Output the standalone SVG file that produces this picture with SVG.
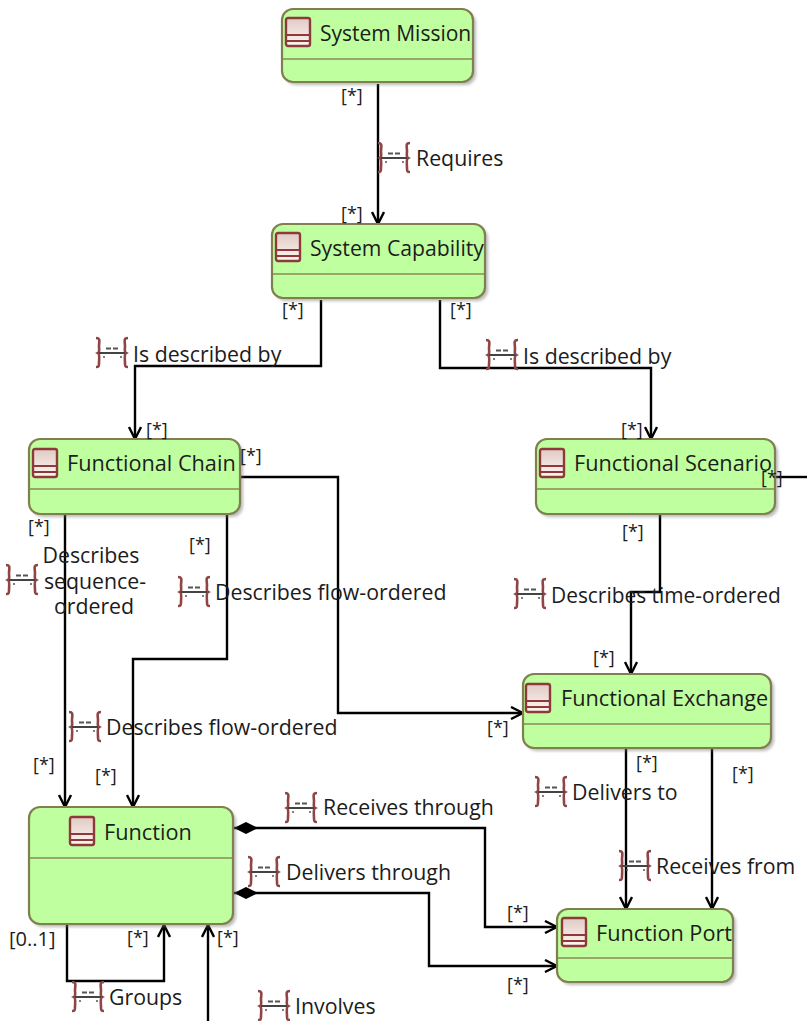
<svg xmlns="http://www.w3.org/2000/svg" width="807" height="1021" viewBox="0 0 807 1021">
<style>
text{font-family:"Open Sans","Noto Sans","Liberation Sans",sans-serif;fill:#1c1c1c}
.n{font-size:21.7px}
.l{font-size:21.3px}
.m{font-size:18px}
.box{fill:#bfff9f;stroke:#7f7f4f;stroke-width:2.2}
.sh{fill:#777;opacity:.5;filter:url(#b)}
.div{stroke:#8a8a55;stroke-width:1.6;fill:none}
.c{fill:none;stroke:#000;stroke-width:2.4}
</style>
<defs>
<filter id="b" x="-10%" y="-10%" width="120%" height="120%"><feGaussianBlur stdDeviation="1.6"/></filter>
<linearGradient id="g" x1="0" y1="0" x2="0" y2="1"><stop offset="0" stop-color="#e0cac4"/><stop offset="1" stop-color="#fff6f2"/></linearGradient>
<g id="ci">
<rect x="0" y="0" width="24" height="28" rx="2" fill="url(#g)" stroke="#8f3a3a" stroke-width="2.4"/>
<path d="M0 17H24M0 23H24" stroke="#8f3a3a" stroke-width="2" fill="none"/>
</g>
<g id="ri" fill="none" stroke="#8f4545" stroke-width="2.6">
<path d="M0 0C5 0 3 4 3 8C3 12 4 14 2 15C4 16 3 22 3 25C3 28 3 29 0 29"/>
<path d="M32 0C27 0 29 4 29 8C29 12 28 14 30 15C28 16 29 22 29 25C29 28 29 29 32 29"/>
<path d="M3 15H29" stroke="#444" stroke-width="2"/>
<path d="M10 10.500H15M17 10.500H22" stroke="#555" stroke-width="2"/>
<path d="M7 19H9M24 19H26" stroke="#555" stroke-width="1.500"/>
</g>
<marker id="a" viewBox="0 0 14 14" markerWidth="14" markerHeight="14" refX="13" refY="7" orient="auto" markerUnits="userSpaceOnUse"><path d="M1 1L13 7L1 13" fill="none" stroke="#000" stroke-width="2.4"/></marker>
<marker id="d" viewBox="0 0 26 14" markerWidth="26" markerHeight="14" refX="1" refY="7" orient="auto" markerUnits="userSpaceOnUse"><path d="M1 7L13 1L25 7L13 13Z" fill="#000"/></marker>
</defs>
<g id="connectors">
<path class="c" marker-end="url(#a)" d="M378 84V224"/>
<path class="c" marker-end="url(#a)" d="M321 300V366H135V439"/>
<path class="c" marker-end="url(#a)" d="M440 300V368H651V439"/>
<path class="c" d="M775 477H807"/>
<path class="c" marker-end="url(#a)" d="M65 515V807"/>
<path class="c" marker-end="url(#a)" d="M227 515V659H133V807"/>
<path class="c" marker-end="url(#a)" d="M241 477H338V713H523"/>
<path class="c" marker-end="url(#a)" d="M660 515V592H631V674"/>
<path class="c" marker-end="url(#a)" d="M626 749V909"/>
<path class="c" marker-end="url(#a)" d="M712 749V909"/>
<path class="c" marker-start="url(#d)" marker-end="url(#a)" d="M234 828H485V927H557"/>
<path class="c" marker-start="url(#d)" marker-end="url(#a)" d="M234 893H429V966H557"/>
<path class="c" marker-end="url(#a)" d="M67 925V981H164V925"/>
<path class="c" marker-end="url(#a)" d="M208 1021V925"/>
</g>
<g id="node-system-mission"><rect class="sh" x="285" y="12" width="191" height="73" rx="11"/><rect class="box" x="282" y="9" width="191" height="73" rx="11"/><path class="div" d="M283 59H472"/><use href="#ci" x="286" y="18"/><text class="n" style="font-size:21px" x="320" y="41">System Mission</text></g>
<g id="node-system-capability"><rect class="sh" x="275" y="227" width="213" height="74" rx="11"/><rect class="box" x="272" y="224" width="213" height="74" rx="11"/><path class="div" d="M273 274H484"/><use href="#ci" x="276" y="233"/><text class="n" style="font-size:21.2px" x="310" y="256">System Capability</text></g>
<g id="node-functional-chain"><rect class="sh" x="32" y="442" width="211" height="75" rx="11"/><rect class="box" x="29" y="439" width="211" height="75" rx="11"/><path class="div" d="M30 489H239"/><use href="#ci" x="33" y="449"/><text class="n" x="67" y="471">Functional Chain</text></g>
<g id="node-functional-scenario"><rect class="sh" x="539" y="442" width="239" height="75" rx="11"/><rect class="box" x="536" y="439" width="239" height="75" rx="11"/><path class="div" d="M537 489H774"/><use href="#ci" x="540" y="449"/><text class="n" x="574" y="471">Functional Scenario</text></g>
<g id="node-functional-exchange"><rect class="sh" x="526" y="677" width="248" height="74" rx="11"/><rect class="box" x="523" y="674" width="248" height="74" rx="11"/><path class="div" d="M524 724H770"/><use href="#ci" x="526" y="684"/><text class="n" x="561" y="706">Functional Exchange</text></g>
<g id="node-function"><rect class="sh" x="32" y="810" width="204" height="117" rx="11"/><rect class="box" x="29" y="807" width="204" height="117" rx="11"/><path class="div" d="M30 858H232"/><use href="#ci" x="70" y="817"/><text class="n" x="104" y="840">Function</text></g>
<g id="node-function-port"><rect class="sh" x="560" y="912" width="176" height="73" rx="11"/><rect class="box" x="557" y="909" width="176" height="73" rx="11"/><path class="div" d="M558 958H732"/><use href="#ci" x="562" y="918"/><text class="n" x="596" y="941">Function Port</text></g>
<g id="labels">
<use href="#ri" x="378" y="143"/><text class="l" x="416" y="166">Requires</text>
<use href="#ri" x="96" y="338"/><text class="l" x="133" y="362">Is described by</text>
<use href="#ri" x="486" y="340"/><text class="l" x="523" y="364">Is described by</text>
<use href="#ri" x="6" y="565"/>
<text class="l" x="91" y="563" text-anchor="middle">Describes</text><text class="l" x="95" y="589" text-anchor="middle">sequence-</text><text class="l" x="94" y="614" text-anchor="middle">ordered</text>
<use href="#ri" x="178" y="577"/><text class="l" x="215" y="600">Describes flow-ordered</text>
<use href="#ri" x="514" y="579"/><text class="l" style="font-size:20.9px" x="551" y="603">Describes time-ordered</text>
<use href="#ri" x="69" y="712"/><text class="l" x="106" y="735">Describes flow-ordered</text>
<use href="#ri" x="535" y="777"/><text class="l" x="572" y="800">Delivers to</text>
<use href="#ri" x="619" y="851"/><text class="l" x="656" y="874">Receives from</text>
<use href="#ri" x="285" y="793"/><text class="l" x="323" y="815">Receives through</text>
<use href="#ri" x="248" y="857"/><text class="l" x="286" y="880">Delivers through</text>
<use href="#ri" x="72" y="982"/><text class="l" x="109" y="1005">Groups</text>
<use href="#ri" x="258" y="991"/><text class="l" x="295" y="1014">Involves</text>
<text class="m" x="341" y="102">[*]</text>
<text class="m" x="341" y="220">[*]</text>
<text class="m" x="282" y="316">[*]</text>
<text class="m" x="450" y="316">[*]</text>
<text class="m" x="146" y="436">[*]</text>
<text class="m" x="621" y="436">[*]</text>
<text class="m" x="240" y="462">[*]</text>
<text class="m" x="761" y="484">[*]</text>
<text class="m" x="28" y="533">[*]</text>
<text class="m" x="189" y="551">[*]</text>
<text class="m" x="622" y="538">[*]</text>
<text class="m" x="593" y="664">[*]</text>
<text class="m" x="487" y="734">[*]</text>
<text class="m" x="33" y="771">[*]</text>
<text class="m" x="95" y="782">[*]</text>
<text class="m" x="636" y="769">[*]</text>
<text class="m" x="732" y="780">[*]</text>
<text class="m" x="507" y="919">[*]</text>
<text class="m" x="507" y="991">[*]</text>
<text class="m" x="127" y="944">[*]</text>
<text class="m" x="217" y="944">[*]</text>
<text class="m" style="font-size:20px" x="9" y="946">[0..1]</text>
</g>
</svg>
